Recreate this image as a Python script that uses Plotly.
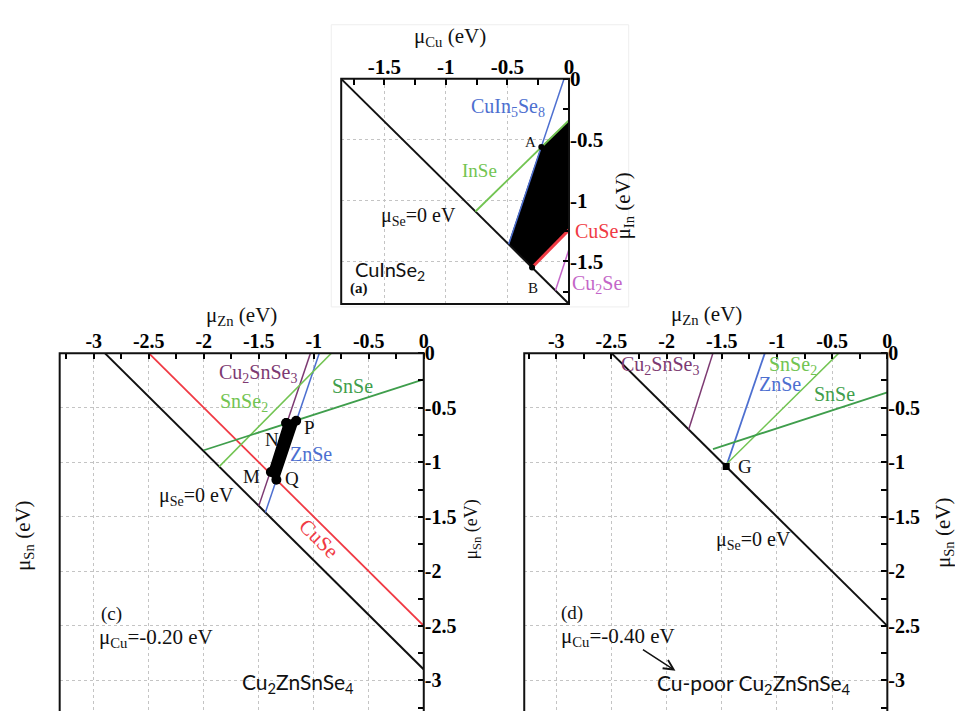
import plotly.graph_objects as go

W, H = 955, 711

# ---------------- data ----------------
# Panel (a): CuInSe2, x = mu_Cu, y = mu_In (eV)
a_se0_x = [-1.85, 0.0]
a_se0_y = [0.0, -1.85]
a_cuin5se8_x = [-0.04, -0.49]
a_cuin5se8_y = [0.0, -1.36]
a_inse_x = [0.0, -0.76]
a_inse_y = [-0.34, -1.09]
a_cuse_x = [-0.30, 0.0]
a_cuse_y = [-1.55, -1.24]
a_cu2se_x = [0.0, -0.11]
a_cu2se_y = [-1.40, -1.74]
a_region_x = [-0.225, 0.0, 0.0, -0.30, -0.49, -0.225]
a_region_y = [-0.56, -0.34, -1.24, -1.55, -1.36, -0.56]
a_pts_x = [-0.225, -0.30]
a_pts_y = [-0.56, -1.55]

# Panel (c): Cu2ZnSnSe4 at mu_Cu = -0.20 eV, x = mu_Zn, y = mu_Sn
c_se0_x = [-2.9, 0.0]
c_se0_y = [0.0, -2.9]
c_cuse_x = [-2.5, 0.0]
c_cuse_y = [0.0, -2.5]
c_cu2snse3_x = [-1.03, -1.50]
c_cu2snse3_y = [0.0, -1.40]
c_znse_x = [-0.95, -1.44]
c_znse_y = [0.0, -1.46]
c_snse2_x = [-0.84, -1.86]
c_snse2_y = [0.0, -1.04]
c_snse_x = [0.0, -2.0]
c_snse_y = [-0.24, -0.89]
# N, P, Q, M
c_region_x = [-1.25, -1.16, -1.34, -1.39, -1.25]
c_region_y = [-0.64, -0.62, -1.16, -1.09, -0.64]

# Panel (d): Cu-poor Cu2ZnSnSe4 at mu_Cu = -0.40 eV
d_se0_x = [-2.5, 0.0]
d_se0_y = [0.0, -2.5]
d_cu2snse3_x = [-1.58, -1.80]
d_cu2snse3_y = [0.0, -0.70]
d_znse_x = [-1.11, -1.45]
d_znse_y = [0.0, -1.01]
d_snse2_x = [-0.44, -1.45]
d_snse2_y = [0.0, -1.01]
d_snse_x = [0.0, -1.58]
d_snse_y = [-0.36, -0.88]
d_g_x = [-1.46]
d_g_y = [-1.04]

# tick labels
a_ticks = [-1.5, -1.0, -0.5, 0.0]
a_ticktext = ["-1.5", "-1", "-0.5", "0"]
cd_ticks = [-3.0, -2.5, -2.0, -1.5, -1.0, -0.5, 0.0]
cd_ticktext = ["-3", "-2.5", "-2", "-1.5", "-1", "-0.5", "0"]

# ---------------- styling ----------------
SERIF = "Liberation Serif, Times New Roman, serif"
SANS = "Lato, Open Sans, sans-serif"
BLACK = "#111111"
BLUE = "#4d6fd0"
GREEN_L = "#72c452"
GREEN_D = "#3f9e4c"
RED = "#f03a44"
PURPLE = "#7d3a72"
MAGENTA = "#c466c8"


def px(x):
    return x / W


def py(y):
    return 1 - y / H


fig = go.Figure()


def seg(x, y, color, width, xa, ya):
    fig.add_trace(go.Scatter(x=x, y=y, mode="lines", line=dict(color=color, width=width),
                             xaxis=xa, yaxis=ya, hoverinfo="skip", showlegend=False))


# panel (a)
fig.add_trace(go.Scatter(x=a_region_x, y=a_region_y, mode="lines", fill="toself",
                         fillcolor="black", line=dict(color="black", width=1),
                         xaxis="x", yaxis="y", hoverinfo="skip", showlegend=False))
seg(a_se0_x, a_se0_y, BLACK, 2, "x", "y")
seg(a_cuin5se8_x, a_cuin5se8_y, BLUE, 1.5, "x", "y")
seg(a_inse_x, a_inse_y, GREEN_L, 1.8, "x", "y")
seg(a_cuse_x, a_cuse_y, RED, 3, "x", "y")
seg(a_cu2se_x, a_cu2se_y, MAGENTA, 1.5, "x", "y")
fig.add_trace(go.Scatter(x=a_pts_x, y=a_pts_y, mode="markers",
                         marker=dict(color="black", size=6), xaxis="x", yaxis="y",
                         hoverinfo="skip", showlegend=False))

# panel (c)
seg(c_se0_x, c_se0_y, BLACK, 2, "x2", "y2")
seg(c_cuse_x, c_cuse_y, RED, 1.8, "x2", "y2")
seg(c_cu2snse3_x, c_cu2snse3_y, PURPLE, 1.5, "x2", "y2")
seg(c_znse_x, c_znse_y, BLUE, 1.5, "x2", "y2")
seg(c_snse2_x, c_snse2_y, GREEN_L, 1.5, "x2", "y2")
seg(c_snse_x, c_snse_y, GREEN_D, 1.8, "x2", "y2")
fig.add_trace(go.Scatter(x=c_region_x, y=c_region_y, mode="lines+markers", fill="toself",
                         fillcolor="black", line=dict(color="black", width=5),
                         marker=dict(color="black", size=10),
                         xaxis="x2", yaxis="y2", hoverinfo="skip", showlegend=False))

# panel (d)
seg(d_se0_x, d_se0_y, BLACK, 2, "x3", "y3")
seg(d_cu2snse3_x, d_cu2snse3_y, PURPLE, 1.5, "x3", "y3")
seg(d_znse_x, d_znse_y, BLUE, 1.8, "x3", "y3")
seg(d_snse2_x, d_snse2_y, GREEN_L, 1.5, "x3", "y3")
seg(d_snse_x, d_snse_y, GREEN_D, 1.8, "x3", "y3")
fig.add_trace(go.Scatter(x=d_g_x, y=d_g_y, mode="markers",
                         marker=dict(color="black", size=7, symbol="square"),
                         xaxis="x3", yaxis="y3", hoverinfo="skip", showlegend=False))


def axis(domain, rng, vals, text, side, anchor, size):
    return dict(domain=domain, range=rng, side=side, anchor=anchor,
                tickmode="array", tickvals=vals, ticktext=text, ticks="",
                showgrid=True, gridcolor="#c4c4c4", griddash="dot", gridwidth=1,
                zeroline=False, showline=False, mirror="ticks",
                minor=dict(ticks="inside", dtick=0.25, tick0=0, ticklen=6,
                           tickcolor="black", tickwidth=1.5, showgrid=False),
                tickfont=dict(family=SERIF, size=size, color="black", weight="bold"),
                fixedrange=True)


fig.update_layout(
    width=W, height=H, autosize=False,
    margin=dict(l=0, r=0, t=0, b=0),
    paper_bgcolor="white", plot_bgcolor="white",
    xaxis=axis([px(343), px(572)], [-1.85, 0], a_ticks, a_ticktext, "top", "y", 21),
    yaxis=axis([py(297), py(68)], [-1.85, 0], a_ticks, a_ticktext, "right", "x", 21),
    xaxis2=axis([px(60), px(426)], [-3.31, 0], cd_ticks, cd_ticktext, "top", "y2", 20),
    yaxis2=axis([0, py(347)], [-3.28, 0], cd_ticks, cd_ticktext, "right", "x2", 20),
    xaxis3=axis([px(527), px(892)], [-3.29, 0], cd_ticks, cd_ticktext, "top", "y3", 20),
    yaxis3=axis([0, py(347)], [-3.28, 0], cd_ticks, cd_ticktext, "right", "x3", 20),
)

# frames
shapes = [
    dict(type="rect", xref="paper", yref="paper", x0=px(333), x1=px(632), y0=py(300), y1=py(13),
         line=dict(color="#eeeeee", width=1), layer="below"),
    dict(type="rect", xref="paper", yref="paper", x0=px(343), x1=px(572), y0=py(297), y1=py(68),
         line=dict(color=BLACK, width=2)),
    dict(type="rect", xref="paper", yref="paper", x0=px(60), x1=px(426), y0=-0.05, y1=py(347),
         line=dict(color=BLACK, width=2)),
    dict(type="rect", xref="paper", yref="paper", x0=px(527), x1=px(892), y0=-0.05, y1=py(347),
         line=dict(color=BLACK, width=2)),
]
fig.update_layout(shapes=shapes)


def label(x, y, text, size=19, color=BLACK, family=SERIF, angle=0, weight="normal"):
    fig.add_annotation(x=px(x), y=py(y), xref="paper", yref="paper", text=text,
                       showarrow=False, textangle=angle, xanchor="center", yanchor="middle",
                       font=dict(family=family, size=size, color=color, weight=weight))


# panel (a) labels
label(452, 25, "μ<sub>Cu</sub> (eV)", 21)
label(627, 197, "μ<sub>In</sub> (eV)", 21, angle=-90)
label(511, 97, "CuIn<sub>5</sub>Se<sub>8</sub>", 20, BLUE)
label(482, 161, "InSe", 19, GREEN_L)
label(421, 208, "μ<sub>Se</sub>=0 eV", 20)
label(533, 132, "A", 15)
label(536, 281, "B", 15)
label(600, 223, "CuSe", 20, RED)
label(600, 277, "Cu<sub>2</sub>Se", 20, MAGENTA)
label(392, 263, "CuInSe<sub>2</sub>", 20, BLACK, SANS)
label(361, 281, "(a)", 15, weight="bold")

# panel (c) labels
label(243, 309, "μ<sub>Zn</sub> (eV)", 21)
label(24, 532, "μ<sub>Sn</sub> (eV)", 21, angle=-90)
label(475, 527, "μ<sub>Sn</sub> (eV)", 18, angle=-90)
label(259, 368, "Cu<sub>2</sub>SnSe<sub>3</sub>", 20, PURPLE)
label(245, 397, "SnSe<sub>2</sub>", 20, GREEN_L)
label(354, 380, "SnSe", 20, GREEN_D)
label(273, 435, "N", 19)
label(311, 423, "P", 19)
label(313, 450, "ZnSe", 20, BLUE)
label(253, 472, "M", 19)
label(294, 475, "Q", 19)
label(198, 493, "μ<sub>Se</sub>=0 eV", 20)
label(321, 536, "CuSe", 21, RED, angle=45)
label(112, 612, "(c)", 19)
label(157, 637, "μ<sub>Cu</sub>=-0.20 eV", 21)
label(300, 683, "Cu<sub>2</sub>ZnSnSe<sub>4</sub>", 21, BLACK, SANS)

# panel (d) labels
label(710, 308, "μ<sub>Zn</sub> (eV)", 21)
label(949, 530, "μ<sub>Sn</sub> (eV)", 21, angle=-90)
label(663, 360, "Cu<sub>2</sub>SnSe<sub>3</sub>", 20, PURPLE)
label(797, 360, "SnSe<sub>2</sub>", 20, GREEN_L)
label(784, 378, "ZnSe", 20, BLUE)
label(839, 389, "SnSe", 20, GREEN_D)
label(749, 462, "G", 19)
label(757, 538, "μ<sub>Se</sub>=0 eV", 20)
label(575, 611, "(d)", 19)
label(621, 636, "μ<sub>Cu</sub>=-0.40 eV", 21)
label(758, 684, "Cu-poor Cu<sub>2</sub>ZnSnSe<sub>4</sub>", 21, BLACK, SANS)

fig.add_annotation(x=px(679), y=py(670), xref="paper", yref="paper",
                   ax=-34, ay=-22, text="", showarrow=True, arrowhead=5, arrowsize=1.3,
                   arrowwidth=1.5, arrowcolor=BLACK)

fig.write_html("out.html")
